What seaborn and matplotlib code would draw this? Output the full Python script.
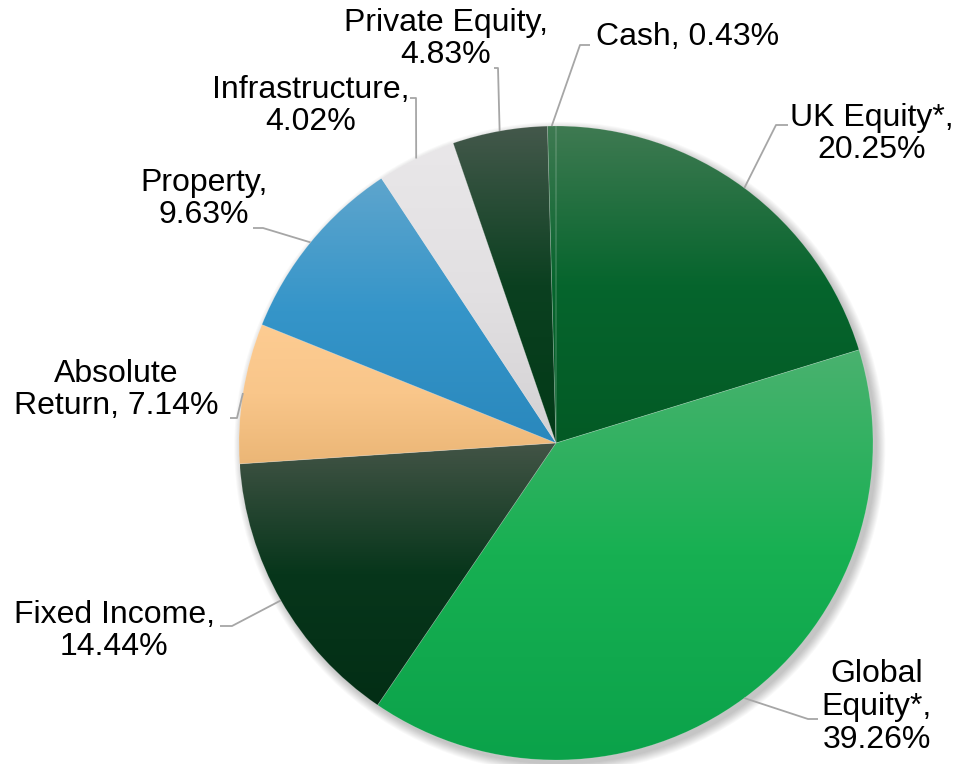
import numpy as np
import matplotlib
matplotlib.use('Agg')
import matplotlib.pyplot as plt
import seaborn as sns
from matplotlib.colors import LinearSegmentedColormap
from matplotlib.patches import Circle

# data (clockwise from 12 o'clock)
labels = ['UK Equity*,\n20.25%', 'Global\nEquity*,\n39.26%', 'Fixed Income,\n14.44%',
          'Absolute\nReturn, 7.14%', 'Property,\n9.63%', 'Infrastructure,\n4.02%',
          'Private Equity,\n4.83%', 'Cash, 0.43%']
shares = [20.25, 39.26, 14.44, 7.14, 9.63, 4.02, 4.83, 0.43]

# gradient fills: top / middle / bottom of each wedge
top_colors = ['#3f7a52', '#4ab26f', '#435446', '#fdcc92', '#5ea5cd', '#e9e7e9', '#44584b', '#3f7a52']
mid_colors = ['#06652d', '#17b052', '#07361b', '#f9c68a', '#3595c9', '#e2e0e2', '#0b4020', '#06652d']
bot_colors = ['#035a25', '#0ba24a', '#032e15', '#ebb676', '#2a88bd', '#d3d1d3', '#023a17', '#035a25']

# label layout in pixels: text centre, leader elbow, leader stub end
text_pos = [(872, 134), (877, 707), (114, 631), (116, 390), (204, 199), (311, 106), (446, 39), (596, 37)]
elbows = [(776, 125), (808, 719), (232, 626), (237, 418), (263, 228), (416, 98), (498, 68), (580, 45)]
stubs = [(788, 125), (818, 719), (220, 626), (230, 418), (253, 228), (410, 98), (494, 68), (590, 45)]

W, H = 960, 764
CX, CY, R = 556, 443, 317


def px(p):
    return ((p[0] - CX) / R, (CY - p[1]) / R)


sns.set_theme(style='white')
plt.rcParams['font.family'] = ['Liberation Sans', 'DejaVu Sans']

fig = plt.figure(figsize=(W / 100, H / 100), dpi=100)
ax = fig.add_axes([0, 0, 1, 1])

# soft drop shadow
for i in range(10):
    ax.add_patch(Circle((0.012, -0.014), 1.0 + 0.003 * i, color='black', alpha=0.025, lw=0, zorder=0))

wedges, _ = ax.pie(shares, startangle=90, counterclock=False, radius=1, center=(0, 0))

grad = np.linspace(0, 1, 256).reshape(-1, 1)
for w, c0, c1, c2 in zip(wedges, top_colors, mid_colors, bot_colors):
    ext = w.get_path().get_extents()
    cmap = LinearSegmentedColormap.from_list('g', [c2, c1, c0])
    im = ax.imshow(grad, cmap=cmap, extent=[ext.x0, ext.x1, ext.y0, ext.y1], origin='lower',
                   aspect='auto', interpolation='bicubic', zorder=2)
    im.set_clip_path(w)
    w.set_facecolor('none')
    w.set_edgecolor((1, 1, 1, 0.2))
    w.set_linewidth(0.5)
    w.set_zorder(3)

# labels and leader lines
for w, lab, tp, el, st in zip(wedges, labels, text_pos, elbows, stubs):
    mid = np.deg2rad((w.theta1 + w.theta2) / 2)
    p0 = (np.cos(mid), np.sin(mid))
    e = px(el)
    s = px(st)
    ax.plot([p0[0], e[0], s[0]], [p0[1], e[1], s[1]], color='#a6a6a6', lw=1.3, zorder=4,
            solid_capstyle='butt')
    x, y = px(tp)
    ha = 'left' if lab.startswith('Cash') else 'center'
    ax.text(x, y, lab, ha=ha, va='center', multialignment='center', fontsize=23,
            linespacing=1.12, color='black', zorder=5)

ax.set_aspect('equal')
ax.set_xlim(-CX / R, (W - CX) / R)
ax.set_ylim((CY - H) / R, CY / R)
ax.axis('off')

fig.savefig('out.png', dpi=100, facecolor='white')
